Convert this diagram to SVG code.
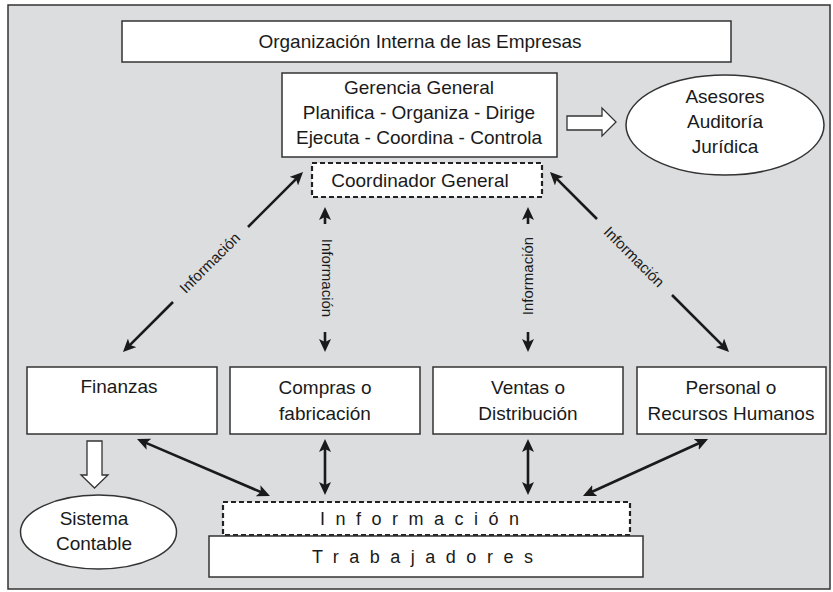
<svg xmlns="http://www.w3.org/2000/svg" width="833" height="592" viewBox="0 0 833 592">
<style>
text{font-family:"Liberation Sans",Arial,sans-serif;fill:#1a1a1a;}
.t{font-size:19px;text-anchor:middle;}
.lbl{font-size:15px;text-anchor:middle;}
.sp{font-size:18px;letter-spacing:10.5px;}
.box{fill:#fff;stroke:#333;stroke-width:1.5;}
.dash{fill:#fff;stroke:#222;stroke-width:2.2;stroke-dasharray:5 3;}
.hol{fill:#fff;stroke:#333;stroke-width:1.3;}
.arr{fill:none;stroke:#1a1a1a;stroke-width:2.6;}
</style>
<defs>
<marker id="ah" markerUnits="userSpaceOnUse" markerWidth="14" markerHeight="12" viewBox="0 0 14 12" refX="9" refY="6" orient="auto-start-reverse">
<path d="M0,0 L13,6 L0,12 L3,6 z" fill="#1a1a1a"/>
</marker>
</defs>
<rect id="frame" x="8" y="5" width="822" height="584" fill="#dcdddf" stroke="#333" stroke-width="1.5"/>
<g id="title"><rect class="box" x="122" y="21" width="609" height="41"/><text class="t" x="420" y="48">Organización Interna de las Empresas</text></g>
<g id="gerencia"><rect class="box" x="282" y="73" width="275" height="84"/>
<text class="t" x="419" y="94">Gerencia General</text>
<text class="t" x="419" y="119">Planifica - Organiza - Dirige</text>
<text class="t" x="419" y="144">Ejecuta - Coordina - Controla</text></g>
<g id="coordinador"><rect class="dash" x="312" y="163" width="230" height="34"/><text class="t" x="420" y="187">Coordinador General</text></g>
<g id="asesores"><ellipse class="box" cx="725" cy="125" rx="99" ry="50"/>
<text class="t" x="725" y="103">Asesores</text>
<text class="t" x="725" y="128">Auditoría</text>
<text class="t" x="725" y="153">Jurídica</text></g>
<g id="finanzas"><rect class="box" x="27" y="367" width="190" height="67"/><text class="t" x="119" y="393">Finanzas</text></g>
<g id="compras"><rect class="box" x="230" y="367" width="190" height="67"/><text class="t" x="325" y="394">Compras o</text><text class="t" x="325" y="420">fabricación</text></g>
<g id="ventas"><rect class="box" x="433" y="367" width="190" height="67"/><text class="t" x="528" y="394">Ventas o</text><text class="t" x="528" y="420">Distribución</text></g>
<g id="personal"><rect class="box" x="637" y="367" width="189" height="67"/><text class="t" x="731" y="394">Personal o</text><text class="t" x="731" y="420">Recursos Humanos</text></g>
<g id="sistema"><ellipse class="box" cx="98.5" cy="532" rx="78" ry="37"/><text class="t" x="94" y="525">Sistema</text><text class="t" x="94" y="550">Contable</text></g>
<g id="informacion"><rect class="dash" x="223" y="502" width="407" height="33"/><text class="sp" x="320" y="525">Información</text></g>
<g id="trabajadores"><rect class="box" x="209" y="536" width="434" height="41"/><text class="sp" x="312" y="563">Trabajadores</text></g>
<g id="connectors">
<path class="hol" d="M567,116 H602 V108 L616,122 L602,136 V130 H567 Z"/>
<path class="hol" d="M87,441 H102 V475 H108 L94.5,488 L81,475 H87 Z"/>
<line class="arr" x1="248" y1="227" x2="300.2" y2="174.8" marker-end="url(#ah)"/>
<line class="arr" x1="173" y1="302" x2="125.8" y2="349.2" marker-end="url(#ah)"/>
<line class="arr" x1="597" y1="219" x2="552.8" y2="174.8" marker-end="url(#ah)"/>
<line class="arr" x1="672" y1="295" x2="726.2" y2="349.2" marker-end="url(#ah)"/>
<line class="arr" x1="325" y1="224" x2="325" y2="211" marker-end="url(#ah)"/>
<line class="arr" x1="325" y1="332" x2="325" y2="348" marker-end="url(#ah)"/>
<line class="arr" x1="528" y1="224" x2="528" y2="211" marker-end="url(#ah)"/>
<line class="arr" x1="528" y1="332" x2="528" y2="348" marker-end="url(#ah)"/>
<line class="arr" x1="140.7" y1="440.6" x2="266.3" y2="494.4" marker-start="url(#ah)" marker-end="url(#ah)"/>
<line class="arr" x1="325" y1="443" x2="325" y2="491" marker-start="url(#ah)" marker-end="url(#ah)"/>
<line class="arr" x1="528" y1="443" x2="528" y2="491" marker-start="url(#ah)" marker-end="url(#ah)"/>
<line class="arr" x1="704.4" y1="440.7" x2="586.6" y2="494.3" marker-start="url(#ah)" marker-end="url(#ah)"/>
<text class="lbl" transform="translate(210,263) rotate(-45)" dy="5">Información</text>
<text class="lbl" transform="translate(634,257) rotate(45)" dy="5">Información</text>
<text class="lbl" transform="translate(327,278) rotate(90)" dy="5">Información</text>
<text class="lbl" transform="translate(528,276) rotate(-90)" dy="5">Información</text>
</g>
</svg>
